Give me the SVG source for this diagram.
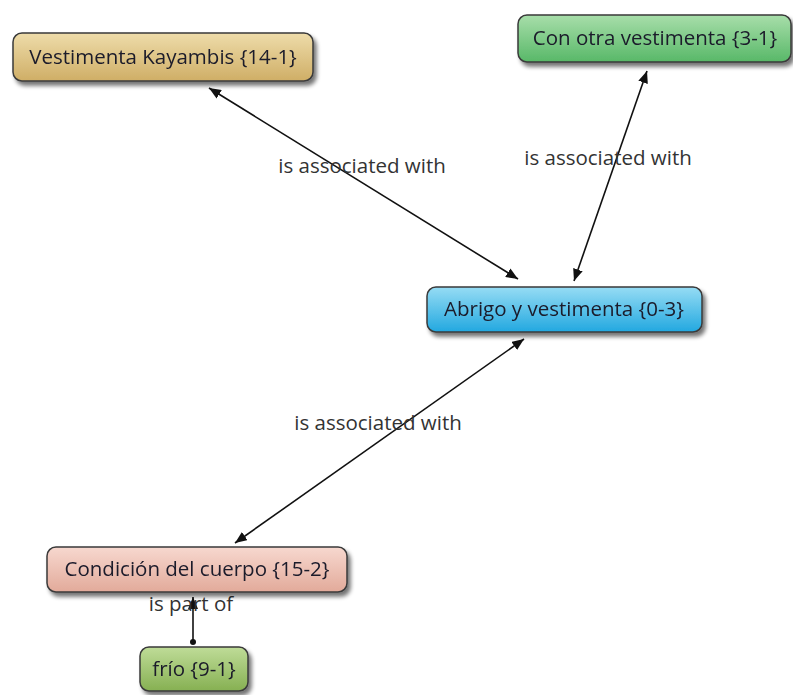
<svg xmlns="http://www.w3.org/2000/svg" width="793" height="695" viewBox="0 0 793 695">
<style>
.box{stroke:#3a3a3a;stroke-width:1.5}
.t{font-family:"Open Sans","DejaVu Sans",sans-serif;font-size:20.5px;fill:#1a1a2a;text-anchor:middle}
.l{font-family:"Open Sans","DejaVu Sans",sans-serif;font-size:20.5px;fill:#333;text-anchor:middle}
.e{stroke:#111;stroke-width:1.6;fill:none}
</style>
<defs>
<filter id="sh" x="-10%" y="-30%" width="130%" height="180%">
<feGaussianBlur in="SourceAlpha" stdDeviation="2"/>
<feOffset dx="3" dy="4"/>
<feComponentTransfer><feFuncA type="linear" slope="0.55"/></feComponentTransfer>
<feMerge><feMergeNode/><feMergeNode in="SourceGraphic"/></feMerge>
</filter>
<linearGradient id="gTan" x1="0" y1="0" x2="0" y2="1"><stop offset="0" stop-color="#eedcaa"/><stop offset="1" stop-color="#cfae66"/></linearGradient>
<linearGradient id="gGreen" x1="0" y1="0" x2="0" y2="1"><stop offset="0" stop-color="#a8deaa"/><stop offset="1" stop-color="#58b868"/></linearGradient>
<linearGradient id="gBlue" x1="0" y1="0" x2="0" y2="1"><stop offset="0" stop-color="#96dcf4"/><stop offset="1" stop-color="#22a8e0"/></linearGradient>
<linearGradient id="gPink" x1="0" y1="0" x2="0" y2="1"><stop offset="0" stop-color="#f7d8cf"/><stop offset="1" stop-color="#e2aa9a"/></linearGradient>
<linearGradient id="gOlive" x1="0" y1="0" x2="0" y2="1"><stop offset="0" stop-color="#bfdc98"/><stop offset="1" stop-color="#86b052"/></linearGradient>
<marker id="ah" viewBox="0 0 12 10" refX="12" refY="5" markerWidth="12" markerHeight="10" markerUnits="userSpaceOnUse" orient="auto-start-reverse"><path d="M0,0 L12,5 L0,10 z" fill="#111"/></marker>
<marker id="dot" viewBox="0 0 6 6" refX="3" refY="3" markerWidth="6" markerHeight="6" markerUnits="userSpaceOnUse"><circle cx="3" cy="3" r="3" fill="#111"/></marker>
</defs>
<g id="connectors">
<line class="e" x1="209" y1="88" x2="518" y2="279" marker-start="url(#ah)" marker-end="url(#ah)"/>
<line class="e" x1="647" y1="71" x2="574" y2="281" marker-start="url(#ah)" marker-end="url(#ah)"/>
<line class="e" x1="524" y1="339" x2="235" y2="543" marker-start="url(#ah)" marker-end="url(#ah)"/>
<line class="e" x1="193" y1="642" x2="193" y2="597" marker-start="url(#dot)" marker-end="url(#ah)"/>
<text class="l" x="362" y="173">is associated with</text>
<text class="l" x="608" y="165">is associated with</text>
<text class="l" x="378" y="430">is associated with</text>
<text class="l" x="191" y="611">is part of</text>
</g>
<g id="n1" filter="url(#sh)"><rect class="box" x="13" y="33" width="300" height="48" rx="9" fill="url(#gTan)"/><text class="t" x="163" y="64">Vestimenta Kayambis {14-1}</text></g>
<g id="n2" filter="url(#sh)"><rect class="box" x="518" y="15" width="273" height="47" rx="9" fill="url(#gGreen)"/><text class="t" x="655" y="45">Con otra vestimenta {3-1}</text></g>
<g id="n3" filter="url(#sh)"><rect class="box" x="427" y="287" width="275" height="45" rx="9" fill="url(#gBlue)"/><text class="t" x="564" y="316">Abrigo y vestimenta {0-3}</text></g>
<g id="n4" filter="url(#sh)"><rect class="box" x="47" y="547" width="300" height="45" rx="9" fill="url(#gPink)"/><text class="t" x="197" y="576">Condición del cuerpo {15-2}</text></g>
<g id="n5" filter="url(#sh)"><rect class="box" x="140" y="647" width="108" height="44" rx="9" fill="url(#gOlive)"/><text class="t" x="194" y="676">frío {9-1}</text></g>
</svg>
